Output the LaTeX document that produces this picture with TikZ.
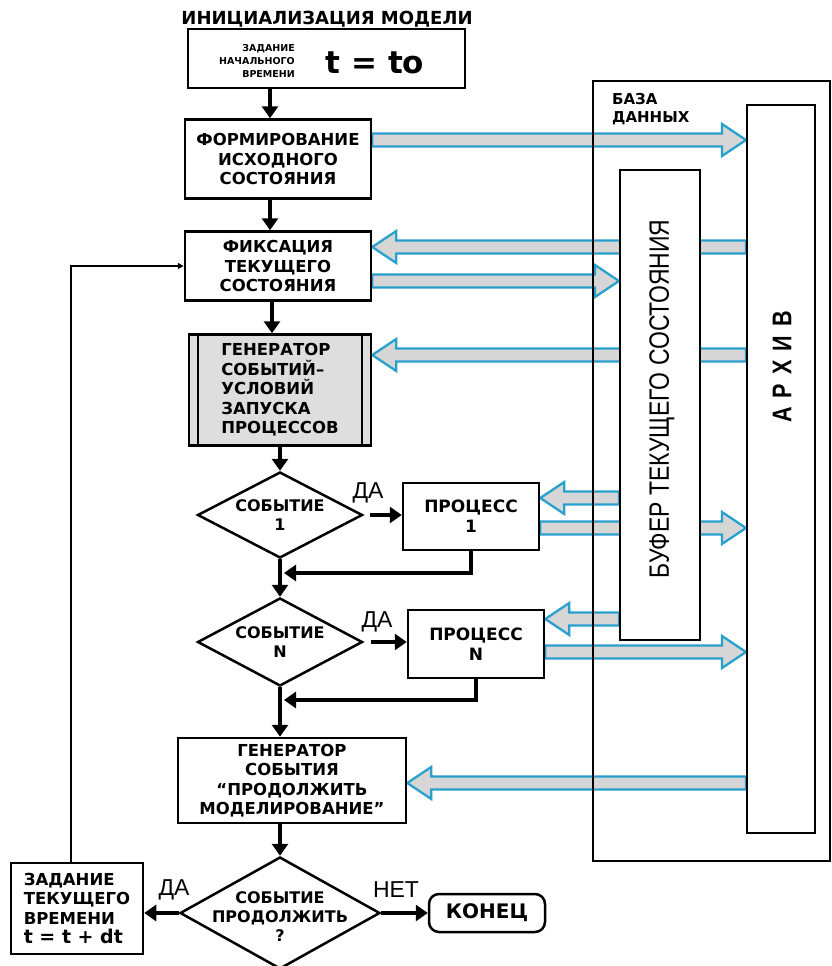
\documentclass[tikz,border=0pt]{standalone}
\usepackage{fontspec}
\setmainfont{DejaVu Sans}
\newfontfamily\labfont{Liberation Sans}
\newfontfamily\narrowfont[FakeStretch=0.82]{Liberation Sans}
\newfontfamily\archfont[FakeStretch=0.8]{Liberation Sans}
\usetikzlibrary{arrows.meta,shapes.geometric,calc}
\pgfdeclarelayer{bg}
\pgfsetlayers{bg,main}
\definecolor{bl}{RGB}{40,160,205}
\definecolor{fl}{RGB}{214,214,214}
\definecolor{gbox}{RGB}{222,222,222}
% hollow horizontal arrow: start, tip, sign (-1 points right, 1 points left)
\newcommand\harrow[3]{%
  \begin{pgfonlayer}{bg}
  \path[hol] let \p1=(#1), \p2=(#2) in
    (\x1,{\y1+6.5pt}) -- ({\x2+(#3)*24pt},{\y1+6.5pt}) -- ({\x2+(#3)*24pt},{\y1+16pt})
    -- (\x2,\y1) -- ({\x2+(#3)*24pt},{\y1-16pt}) -- ({\x2+(#3)*24pt},{\y1-6.5pt})
    -- (\x1,{\y1-6.5pt}) -- cycle;
  \end{pgfonlayer}}
\begin{document}
\begin{tikzpicture}[x=1pt,y=-1pt,
  box/.style={draw=black, line width=2.5pt, fill=white, align=center, inner sep=0pt,
              font=\bfseries\fontsize{16.5}{19.5}\selectfont},
  dia/.style={diamond, draw=black, line width=2.5pt, fill=white, inner sep=0pt},
  diatext/.style={align=center, inner sep=0pt, font=\bfseries\fontsize{16}{19}\selectfont},
  flow/.style={line width=4.3pt, -{Triangle[length=12pt,width=16pt]}},
  thinflow/.style={line width=1.4pt, -{Triangle[length=6pt,width=6pt]}},
  hol/.style={draw=bl, fill=fl, line width=2.3pt},
  lab/.style={font=\labfont\fontsize{23}{23}\selectfont, inner sep=0pt},
  frame/.style={draw=black, line width=2pt}
]
\useasboundingbox (0,0) rectangle (831,966);

% ---- left column ----
\node[font=\bfseries\fontsize{18}{18}\selectfont, inner sep=0pt] (title) at (327,19) {ИНИЦИАЛИЗАЦИЯ МОДЕЛИ};
\node[box, minimum width=277pt, minimum height=59pt] (init) at (326.5,58.5) {};
\node[font=\bfseries\fontsize{9.5}{13}\selectfont, align=right, anchor=east, inner sep=0pt] (zn) at (295,61) {ЗАДАНИЕ\\НАЧАЛЬНОГО\\ВРЕМЕНИ};
\node[font=\bfseries\fontsize{31}{31}\selectfont, inner sep=0pt] (t0) at (375,63) {t = to};

\node[box, minimum width=186pt, minimum height=79pt] (b2) at (278,159) {ФОРМИРОВАНИЕ\\ИСХОДНОГО\\СОСТОЯНИЯ};
\node[box, minimum width=186pt, minimum height=69pt] (b3) at (278,266) {ФИКСАЦИЯ\\ТЕКУЩЕГО\\СОСТОЯНИЯ};
\node[box, fill=gbox, minimum width=182pt, minimum height=111pt, align=left] (b4) at (280,390) {ГЕНЕРАТОР\\СОБЫТИЙ–\\УСЛОВИЙ\\ЗАПУСКА\\ПРОЦЕССОВ};
\draw[line width=1.6pt] ([xshift=10pt]b4.north west) -- ([xshift=10pt]b4.south west);
\draw[line width=1.6pt] ([xshift=-10pt]b4.north east) -- ([xshift=-10pt]b4.south east);

\node[dia, minimum width=165pt, minimum height=86pt] (d1) at (280,515) {};
\node[diatext] (d1t) at (280,515) {СОБЫТИЕ\\1};
\node[box, minimum width=136pt, minimum height=67pt, font=\bfseries\fontsize{17}{20}\selectfont] (p1) at (471,516.5) {ПРОЦЕСС\\1};
\node[dia, minimum width=165pt, minimum height=88pt] (dN) at (280,642) {};
\node[diatext] (dNt) at (280,642) {СОБЫТИЕ\\N};
\node[box, minimum width=136pt, minimum height=68pt, font=\bfseries\fontsize{17}{20}\selectfont] (pN) at (476,644) {ПРОЦЕСС\\N};

\node[box, minimum width=228pt, minimum height=85pt] (gen) at (292,780.5) {ГЕНЕРАТОР\\СОБЫТИЯ\\“ПРОДОЛЖИТЬ\\МОДЕЛИРОВАНИЕ”};
\node[dia, minimum width=200pt, minimum height=112pt] (fd) at (280,913) {};
\node[diatext] (fdt) at (280,917) {СОБЫТИЕ\\ПРОДОЛЖИТЬ\\?};
\node[box, minimum width=132pt, minimum height=91pt, align=left] (zt) at (77,908.5) {ЗАДАНИЕ\\ТЕКУЩЕГО\\ВРЕМЕНИ\\{\fontsize{19}{22}\selectfont t = t + dt}};
\node[box, rounded corners=10pt, minimum width=116pt, minimum height=38pt, font=\bfseries\fontsize{20}{20}\selectfont] (kon) at (487,913) {КОНЕЦ};

% ---- database ----
\node[frame, minimum width=237pt, minimum height=780pt, anchor=north west, inner sep=0pt] (db) at (592,80) {};
\node[anchor=north west, align=left, font=\bfseries\fontsize{15}{18}\selectfont, inner sep=0pt] (dbt) at (612,93) {БАЗА\\ДАННЫХ};
\node[frame, fill=white, minimum width=68pt, minimum height=728pt, inner sep=0pt] (arch) at (781,469) {};
\node[rotate=90, font=\archfont\bfseries\fontsize{27}{27}\selectfont, inner sep=0pt] (archt) at (782,367) {А\,\,Р\,\,Х\,\,И\,\,В};
\node[frame, fill=white, minimum width=80pt, minimum height=470pt, inner sep=0pt] (buf) at (660,405) {};
\node[rotate=90, font=\narrowfont\fontsize{28}{28}\selectfont, inner sep=0pt] (buft) at (662,399) {БУФЕР ТЕКУЩЕГО СОСТОЯНИЯ};

% ---- flow arrows ----
\coordinate (cA) at (270,0);
\coordinate (m1) at (284,573);
\coordinate (m2) at (284,700);
\coordinate (cF) at (71,0);
\draw[flow] (init.south -| cA) -- (b2.north -| cA);
\draw[flow] (b2.south -| cA) -- (b3.north -| cA);
\draw[flow] ([xshift=2pt]b3.south -| cA) -- ([xshift=2pt]b4.north -| cA);
\draw[flow] (b4.south -| d1.north) -- (d1.north);
\draw[flow] (d1.south) -- (dN.north);
\draw[flow] (p1.south) |- (m1);
\draw[flow] (dN.south) -- (dN.south |- gen.north);
\draw[flow] (pN.south) |- (m2);
\draw[flow] (fd.north |- gen.south) -- (fd.north);
\draw[flow, shorten <=6pt] (d1.east) -- (d1.east -| p1.west);
\draw[flow, shorten <=7pt] (dN.east) -- (dN.east -| pN.west);
\draw[flow] (fd.west) -- (fd.west -| zt.east);
\draw[flow] (fd.east) -- (fd.east -| kon.west);
\draw[thinflow] (zt.north -| cF) |- (b3.west);

\node[lab] (da1) at (368,493) {ДА};
\node[lab] (da2) at (377,622) {ДА};
\node[lab] (da3) at (174,890) {ДА};
\node[lab] (net) at (396,890) {НЕТ};

% ---- hollow data arrows ----
\coordinate (ya1) at (0,140);
\coordinate (ya2) at (0,247);
\coordinate (ya3) at (0,281);
\coordinate (ya4) at (0,355);
\coordinate (ya5) at (0,498);
\coordinate (ya6) at (0,528);
\coordinate (ya7) at (0,619);
\coordinate (ya8) at (0,652);
\coordinate (ya9) at (0,783);
\harrow{b2.east |- ya1}{arch.west |- ya1}{-1}
\harrow{arch.west |- ya2}{b3.east |- ya2}{1}
\harrow{b3.east |- ya3}{buf.west |- ya3}{-1}
\harrow{arch.west |- ya4}{b4.east |- ya4}{1}
\harrow{buf.west |- ya5}{p1.east |- ya5}{1}
\harrow{p1.east |- ya6}{arch.west |- ya6}{-1}
\harrow{buf.west |- ya7}{pN.east |- ya7}{1}
\harrow{pN.east |- ya8}{arch.west |- ya8}{-1}
\harrow{arch.west |- ya9}{gen.east |- ya9}{1}
\end{tikzpicture}
\end{document}
